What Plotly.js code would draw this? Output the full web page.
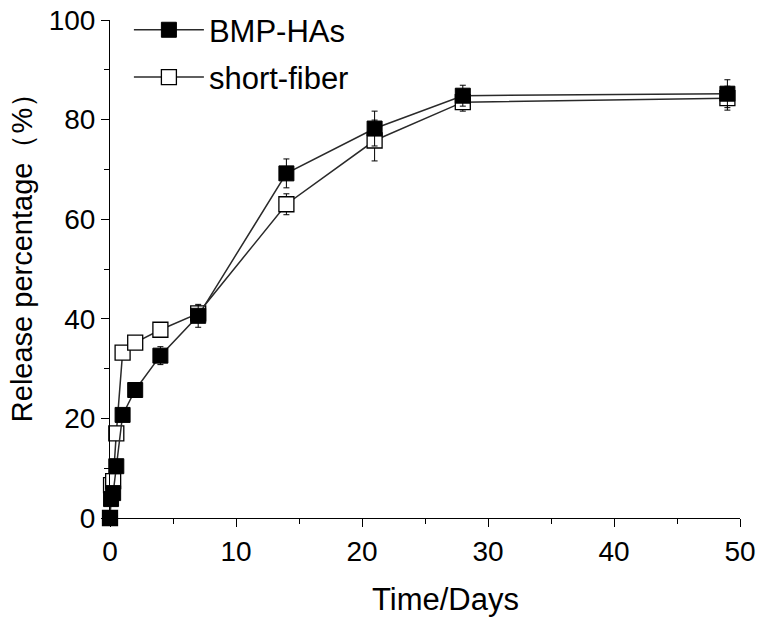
<!DOCTYPE html>
<html>
<head>
<meta charset="utf-8">
<script src="https://cdn.plot.ly/plotly-3.0.1.min.js"></script>
<style>html,body{margin:0;padding:0;background:#fff;}#chart{width:760px;height:621px;}</style>
</head>
<body>
<div id="chart"></div>
<script>
// Time points (days)
var timeDays = [0, 0.083, 0.25, 0.5, 1, 2, 4, 7, 14, 21, 28, 49];
// BMP-HAs release (%) and error
var bmpValues = [0, 3.8, 5.0, 10.4, 20.7, 25.7, 32.6, 40.6, 69.2, 78.2, 84.8, 85.2];
var bmpErrors = [0, 0.6, 0.6, 0.8, 0.8, 0.8, 1.8, 2.3, 2.9, 3.5, 2.1, 2.8];
// short-fiber release (%) and error
var fiberValues = [0, 6.6, 7.4, 17.0, 33.2, 35.2, 37.8, 41.1, 63.0, 75.8, 83.5, 84.3];
var fiberErrors = [0, 3.0, 2.5, 1.0, 0.8, 0.8, 1.2, 1.5, 2.1, 4.1, 1.8, 2.4];
var seriesNames = ["BMP-HAs", "short-fiber"];
var xTickVals = [0, 10, 20, 30, 40, 50];
var yTickVals = [0, 20, 40, 60, 80, 100];
var xTitle = 'Time/Days';
var yTitle = 'Release percentage（%）';

var fontFam = '"Liberation Sans", Arial, sans-serif';
var lineCol = '#2a2a2a';

var traces = [
  {
    x: timeDays, y: fiberValues, name: seriesNames[1], legendrank: 2, legendgroup: 'g2',
    type: 'scatter', mode: 'lines+markers', cliponaxis: false,
    line: {color: lineCol, width: 1.5},
    marker: {symbol: 'square', size: 15, color: '#ffffff', line: {color: '#000', width: 1.3}},
    error_y: {type: 'data', array: fiberErrors, visible: true, color: '#000', thickness: 1, width: 3}
  },
  {
    x: timeDays, y: bmpValues, name: seriesNames[0], legendrank: 1, legendgroup: 'g1',
    type: 'scatter', mode: 'lines+markers', cliponaxis: false,
    line: {color: lineCol, width: 1.5},
    marker: {symbol: 'square', size: 15, color: '#000000', line: {color: '#000', width: 1}},
    error_y: {type: 'data', array: bmpErrors, visible: true, color: '#000', thickness: 1, width: 3}
  }
];

var layout = {
  width: 760, height: 621,
  margin: {l: 110, r: 20, t: 0, b: 103},
  paper_bgcolor: '#fff', plot_bgcolor: '#fff',
  font: {family: fontFam, color: '#000', size: 28},
  showlegend: true,
  legend: {
    x: 0.03, y: 0.994, xanchor: 'left', yanchor: 'top',
    traceorder: 'grouped', tracegroupgap: 4,
    font: {family: fontFam, size: 31, color: '#000'},
    bgcolor: 'rgba(0,0,0,0)', itemwidth: 70
  },
  xaxis: {
    range: [0, 50], tickvals: xTickVals, ticktext: xTickVals.map(String),
    showgrid: false, zeroline: false, showline: true, linecolor: '#000', linewidth: 1,
    ticks: 'outside', ticklen: 8, tickwidth: 1, tickcolor: '#000',
    minor: {dtick: 5, tick0: 5, ticks: 'outside', ticklen: 5, tickwidth: 1, tickcolor: '#000', showgrid: false},
    tickfont: {size: 28}, automargin: false
  },
  yaxis: {
    domain: [0, 498 / 518],
    range: [0, 100], tickvals: yTickVals, ticktext: yTickVals.map(String),
    showgrid: false, zeroline: false, showline: true, linecolor: '#000', linewidth: 1,
    ticks: 'outside', ticklen: 8, tickwidth: 1, tickcolor: '#000',
    minor: {dtick: 20, tick0: 10, ticks: 'outside', ticklen: 5, tickwidth: 1, tickcolor: '#000', showgrid: false},
    tickfont: {size: 28}, automargin: false
  },
  annotations: [
    {
      text: xTitle, xref: 'paper', yref: 'paper', x: 0.532, y: -0.158,
      xanchor: 'center', yanchor: 'middle', showarrow: false, font: {size: 31, color: '#000'}
    },
    {
      text: yTitle, xref: 'paper', yref: 'paper', x: -0.1397, y: 0.517, textangle: -90,
      xanchor: 'center', yanchor: 'middle', showarrow: false, font: {size: 29, color: '#000'}
    }
  ]
};

Plotly.newPlot('chart', traces, layout, {displayModeBar: false, staticPlot: true});
</script>
</body>
</html>
